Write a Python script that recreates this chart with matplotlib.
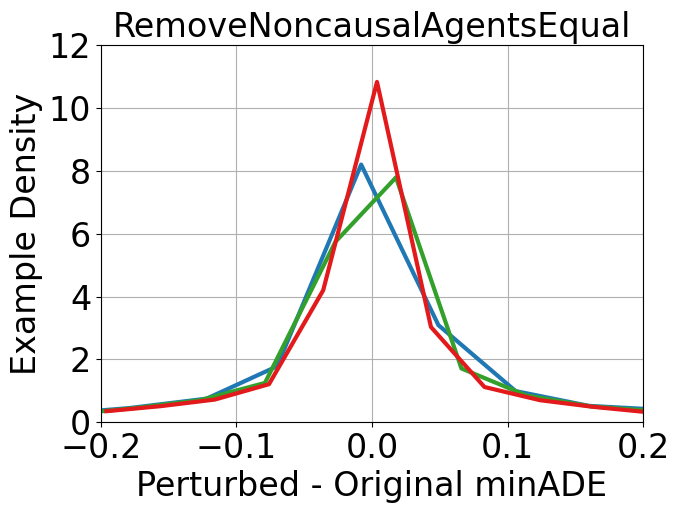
import matplotlib
matplotlib.use("Agg")
import matplotlib.pyplot as plt

# density curves (bin centres, density)
blue_x = [-0.236, -0.179, -0.122, -0.070, -0.008, 0.049, 0.106, 0.160, 0.220]
blue_y = [0.25, 0.45, 0.75, 1.78, 8.20, 3.09, 0.99, 0.52, 0.38]

green_x = [-0.223, -0.175, -0.127, -0.079, -0.027, 0.0177, 0.066, 0.114, 0.162, 0.210]
green_y = [0.25, 0.45, 0.70, 1.25, 5.74, 7.79, 1.71, 0.85, 0.50, 0.35]

red_x = [-0.196, -0.156, -0.116, -0.076, -0.036, 0.0037, 0.0435, 0.083, 0.124, 0.163, 0.203]
red_y = [0.35, 0.51, 0.72, 1.21, 4.20, 10.83, 3.03, 1.12, 0.70, 0.49, 0.32]

fig, ax = plt.subplots(figsize=(6.79, 5.13), dpi=100)
fig.subplots_adjust(left=0.1487, right=0.947, top=0.912, bottom=0.177)

ax.plot(blue_x, blue_y, color='#1f78b4', lw=3)
ax.plot(green_x, green_y, color='#33a02c', lw=3)
ax.plot(red_x, red_y, color='#e31a1c', lw=3)

ax.set_xlim(-0.2, 0.2)
ax.set_ylim(0, 12)
ax.set_xticks([-0.2, -0.1, 0.0, 0.1, 0.2])
ax.set_yticks([0, 2, 4, 6, 8, 10, 12])
ax.tick_params(labelsize=24)
ax.grid(True)
ax.set_axisbelow(True)
ax.set_xlabel('Perturbed - Original minADE', fontsize=24)
ax.set_ylabel('Example Density', fontsize=24)
ax.set_title('RemoveNoncausalAgentsEqual', fontsize=24)

fig.savefig('out.png')
